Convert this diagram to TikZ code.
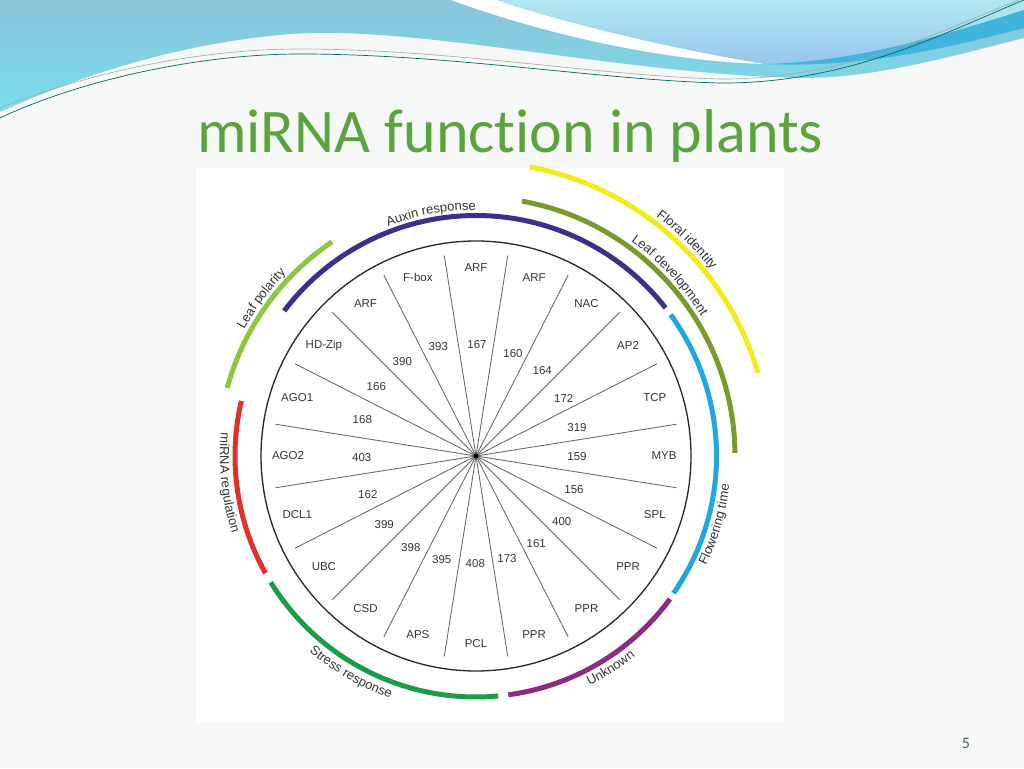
\documentclass[tikz,border=0pt]{standalone}
\usepackage{fontspec}
\setmainfont{Liberation Sans}
\newfontfamily\titlefont[Ligatures=NoCommon]{Carlito}
\usetikzlibrary{calc,decorations.text}
\definecolor{bgc}{HTML}{F6F7F7}
\definecolor{txt}{HTML}{353535}
\definecolor{auxc}{HTML}{3D2F8C}
\definecolor{cyanc}{HTML}{20A8DE}
\definecolor{purc}{HTML}{8C2B80}
\definecolor{grnc}{HTML}{1C9C45}
\definecolor{redc}{HTML}{E2312B}
\definecolor{ygrnc}{HTML}{8DC640}
\definecolor{olivec}{HTML}{7B9A2D}
\definecolor{yelc}{HTML}{F3EB1C}
\definecolor{titlec}{HTML}{5AA43C}
\definecolor{pagec}{HTML}{4D5D6D}
\definecolor{wavetop}{HTML}{8CC3DA}
\definecolor{wavebot}{HTML}{76DEEA}
\definecolor{trtop}{HTML}{B2E8EF}
\definecolor{trbot}{HTML}{96C6EC}
\definecolor{streak}{HTML}{3FB4DC}
\newcommand{\arcfont}{\fontsize{13}{15}\selectfont\color{txt}}
\tikzset{
  lab/.style={font=\fontsize{11.5}{13}\selectfont, text=txt, inner sep=0pt},
  ring/.style={draw=black!85, line width=1.3pt},
  spoke/.style={draw=black!60, line width=0.85pt},
  arcline/.style={line width=5pt},
}
\begin{document}
\begin{tikzpicture}[x=1pt,y=1pt]
\useasboundingbox (0,0) rectangle (1024,768);
\fill[bgc] (0,0) rectangle (1024,768);
% ---- top wave (image coordinates, y downwards)
\begin{scope}[yshift=768pt,yscale=-1]
  \shade[top color=wavetop, bottom color=wavebot]
    (0,0) -- (1024,0) -- (1024,38) .. controls (930,62) and (870,78) .. (800,78)
    .. controls (620,74) and (420,25) .. (290,34)
    .. controls (160,45) and (60,85) .. (0,112) -- cycle;
  \fill[white] (451,0) .. controls (560,40) and (680,62) .. (765,64)
    .. controls (680,50) and (570,25) .. (497,0) -- cycle;
  \shade[top color=trtop, bottom color=trbot]
    (497,0) -- (1024,0) -- (1024,10) .. controls (930,40) and (850,62) .. (765,64)
    .. controls (680,50) and (570,25) .. (497,0) -- cycle;
  \fill[streak] (765,64) .. controls (850,62) and (930,40) .. (1024,10)
    -- (1024,28) .. controls (940,50) and (860,68) .. (765,64) -- cycle;
  \draw[draw=teal!80!black, line width=0.7pt]
    (0,118) .. controls (80,80) and (200,54) .. (300,54)
    .. controls (450,54) and (600,80) .. (720,83)
    .. controls (850,84) and (950,30) .. (1024,0);
  \draw[draw=gray!70, line width=0.6pt]
    (0,108) .. controls (90,72) and (200,49) .. (300,49)
    .. controls (450,49) and (600,76) .. (720,79)
    .. controls (850,80) and (950,26) .. (1024,-2);
\end{scope}
% ---- figure background
\fill[white] (196,46) rectangle (784,600);
% ---- title and page number
\node[anchor=base west, font=\titlefont\fontsize{62}{70}\selectfont, text=titlec, inner sep=0pt] (title) at (197,615) {miRNA function in plants};
\node[anchor=base, font=\titlefont\fontsize{16}{18}\selectfont, text=pagec, inner sep=0pt] (page) at (966,20) {5};
% ---- wheel
\coordinate (C) at (476,312);
\draw[ring] (C) circle[radius=215];
\foreach \k in {0,...,19}{
  \pgfmathsetmacro{\a}{9+18*\k}
  \draw[spoke] (C) -- ($(C)+(\a:203)$);
}
\fill[black] (C) circle[radius=2.3];
% outer gene labels
\foreach \t [count=\i from 0] in {MYB,TCP,AP2,NAC,ARF,ARF,F-box,ARF,HD-Zip,AGO1,AGO2,DCL1,UBC,CSD,APS,PCL,PPR,PPR,PPR,SPL}{
  \pgfmathsetmacro{\b}{18*\i}
  \node[lab] (g\i) at ($(C)+(\b:188)$) {\t};
}
% miRNA numbers
\node[lab] (n159) at (577,311.3) {159};
\node[lab] (n319) at (577,340.7) {319};
\node[lab] (n172) at (563.7,369.7) {172};
\node[lab] (n164) at (542.2,397.7) {164};
\node[lab] (n160) at (513,414.7) {160};
\node[lab] (n167) at (477,423) {167};
\node[lab] (n393) at (438.3,421.3) {393};
\node[lab] (n390) at (402.3,406.3) {390};
\node[lab] (n166) at (376.3,381.8) {166};
\node[lab] (n168) at (362.3,348) {168};
\node[lab] (n403) at (361.7,310) {403};
\node[lab] (n162) at (367.8,273.3) {162};
\node[lab] (n399) at (384.2,243.3) {399};
\node[lab] (n398) at (410.8,220.7) {398};
\node[lab] (n395) at (441.7,208) {395};
\node[lab] (n408) at (475.3,204.7) {408};
\node[lab] (n173) at (507,209.7) {173};
\node[lab] (n161) at (536.2,224.7) {161};
\node[lab] (n400) at (561.7,246.7) {400};
\node[lab] (n156) at (574,278) {156};
% ---- outer category arcs
\draw[arcline, auxc]  ($(C)+(142.9:240.5)$) arc[start angle=142.9, end angle=38, radius=240.5];
\draw[arcline, cyanc] ($(C)+(36:240.5)$) arc[start angle=36, end angle=-34.8, radius=240.5];
\draw[arcline, purc]  ($(C)+(-36.4:241)$) arc[start angle=-36.4, end angle=-82.3, radius=241];
\draw[arcline, grnc]  ($(C)+(-84.7:241)$) arc[start angle=-84.7, end angle=-148.4, radius=241];
\draw[arcline, redc]  ($(C)+(-150.9:241)$) arc[start angle=-150.9, end angle=-193.2, radius=241];
\draw[arcline, ygrnc] ($(C)+(164.7:258)$) arc[start angle=164.7, end angle=123.9, radius=258];
\draw[arcline, olivec] ($(C)+(79.8:259)$) arc[start angle=79.8, end angle=0.7, radius=259];
\draw[arcline, yelc]  ($(C)+(79.5:294)$) arc[start angle=79.5, end angle=16.4, radius=294];
% ---- category labels
\path[decorate, decoration={text along path, text align=center, text={|\arcfont|Auxin response}}]
  ($(C)+(126:246)$) arc[start angle=126, end angle=75, radius=246];
\path[decorate, decoration={text along path, text align=center, text={|\arcfont|Leaf polarity}}]
  ($(C)+(170:264)$) arc[start angle=170, end angle=117.4, radius=264];
\path[decorate, decoration={text along path, text align=center, text={|\arcfont|Floral identity}}]
  ($(C)+(72:300)$) arc[start angle=72, end angle=19.4, radius=300];
\path[decorate, decoration={text along path, text align=center, text={|\arcfont|Leaf development}}]
  ($(C)+(73:265)$) arc[start angle=73, end angle=13, radius=265];
\path[decorate, decoration={text along path, text align=center, text={|\arcfont|Flowering time}}]
  ($(C)+(-44:255)$) arc[start angle=-44, end angle=12, radius=255];
\path[decorate, decoration={text along path, text align=center, text={|\arcfont|Unknown}}]
  ($(C)+(-80:256)$) arc[start angle=-80, end angle=-35.2, radius=256];
\path[decorate, decoration={text along path, text align=center, text={|\arcfont|Stress response}}]
  ($(C)+(212:257)$) arc[start angle=212, end angle=268, radius=257];
\path[decorate, decoration={text along path, text align=center, text={|\arcfont|miRNA regulation}}]
  ($(C)+(158:256)$) arc[start angle=158, end angle=214.4, radius=256];
\end{tikzpicture}
\end{document}
